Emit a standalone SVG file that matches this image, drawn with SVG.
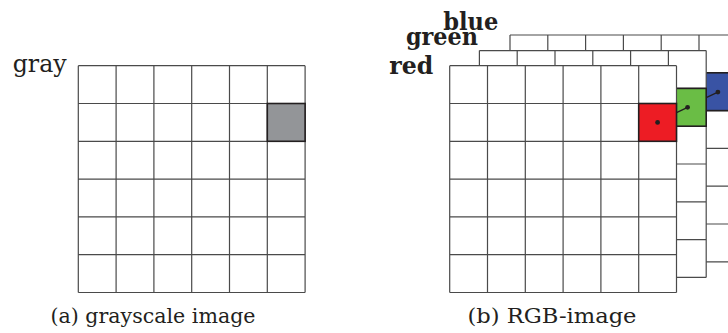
<svg xmlns="http://www.w3.org/2000/svg" width="728" height="333" viewBox="0 0 728 333">
<style>
.bg{fill:#ffffff}
.grid{fill:none;stroke:#4a4a4a;stroke-width:1.2}
.hl{stroke:#231f20;stroke-width:1.6}
.lbl{font-family:"DejaVu Serif","Liberation Serif",serif;fill:#231f20}
.ch{font-weight:bold}
.con{stroke:#231f20;stroke-width:1.3;fill:none}
.dot{fill:#231f20}
</style>
<defs>
<g id="g6">
<rect class="bg" x="0" y="0" width="226.8" height="226.8"/>
<path class="grid" d="M0 0H226.8M0 37.8H226.8M0 75.6H226.8M0 113.4H226.8M0 151.2H226.8M0 189H226.8M0 226.8H226.8M0 0V226.8M37.8 0V226.8M75.6 0V226.8M113.4 0V226.8M151.2 0V226.8M189 0V226.8M226.8 0V226.8"/>
</g>
</defs>
<g id="gray-image">
<use href="#g6" x="78.3" y="65.7"/>
<rect class="hl" x="267.3" y="103.5" width="37.8" height="37.8" fill="#939598"/>
<text class="lbl" x="12.7" y="72" font-size="25" textLength="54" lengthAdjust="spacingAndGlyphs">gray</text>
</g>
<g id="blue-channel">
<use href="#g6" x="510" y="35"/>
<rect class="hl" x="699" y="72.8" width="37.8" height="37.8" fill="#3953a4"/>
<text class="lbl ch" x="443.3" y="30" font-size="24" textLength="55" lengthAdjust="spacingAndGlyphs">blue</text>
</g>
<g id="green-channel">
<use href="#g6" x="479.4" y="50.6"/>
<rect class="hl" x="668.4" y="88.4" width="37.8" height="37.8" fill="#6abd45"/>
<text class="lbl ch" x="406" y="44.5" font-size="24" textLength="72" lengthAdjust="spacingAndGlyphs">green</text>
</g>
<g id="red-channel">
<use href="#g6" x="449.7" y="65.7"/>
<rect class="hl" x="638.7" y="103.5" width="37.8" height="37.8" fill="#ed1c24"/>
<text class="lbl ch" x="389.3" y="74" font-size="24" textLength="44" lengthAdjust="spacingAndGlyphs">red</text>
</g>
<g id="connectors">
<line class="con" x1="676.5" y1="112.7" x2="687.6" y2="107.3"/>
<line class="con" x1="706.2" y1="97.7" x2="717.9" y2="92.1"/>
<circle class="dot" cx="657.6" cy="122.4" r="2.4"/>
<circle class="dot" cx="687.6" cy="107.3" r="2.4"/>
<circle class="dot" cx="717.9" cy="92.1" r="2.4"/>
</g>
<g id="captions">
<text class="lbl" x="50.5" y="323" font-size="21" textLength="205" lengthAdjust="spacingAndGlyphs">(a) grayscale image</text>
<text class="lbl" x="467.5" y="323" font-size="21" textLength="169" lengthAdjust="spacingAndGlyphs">(b) RGB-image</text>
</g>
</svg>
